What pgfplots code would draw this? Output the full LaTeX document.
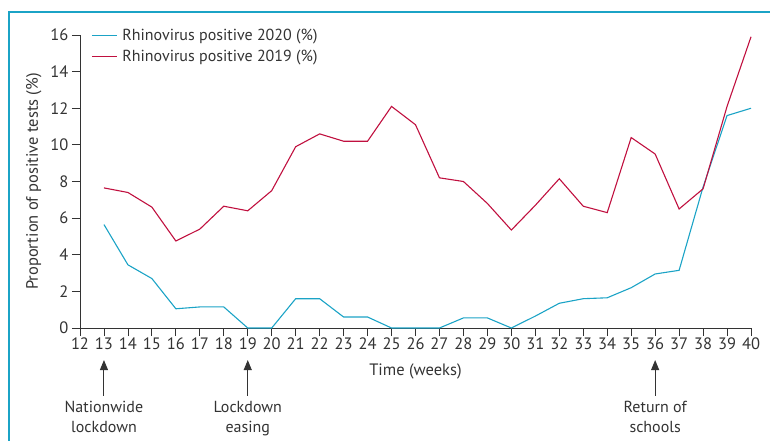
\documentclass[border=0pt]{standalone}
\usepackage{pgfplots}
\pgfplotsset{compat=1.18}
\usepackage{fontspec}
\setmainfont{PT Sans}
\usetikzlibrary{arrows.meta}
\definecolor{cblue}{HTML}{1BA3C6}
\definecolor{cred}{HTML}{C0103F}
\definecolor{txt}{HTML}{333333}
\pgfplotstableread{
week y2020 y2019
13 5.65 7.65
14 3.45 7.40
15 2.70 6.60
16 1.05 4.75
17 1.15 5.40
18 1.15 6.65
19 0.00 6.40
20 0.00 7.50
21 1.60 9.90
22 1.60 10.60
23 0.60 10.20
24 0.60 10.20
25 0.00 12.10
26 0.00 11.10
27 0.00 8.20
28 0.55 8.00
29 0.55 6.80
30 0.00 5.35
31 0.65 6.70
32 1.35 8.15
33 1.60 6.65
34 1.65 6.30
35 2.20 10.40
36 2.95 9.50
37 3.15 6.50
38 7.70 7.60
39 11.60 12.10
40 12.00 15.90
}\datatable
\begin{document}
\begin{tikzpicture}
\useasboundingbox (-80pt,-113pt) rectangle (690pt,328pt);
\draw[cblue, line width=1.2pt] (-71pt,-113pt) -- (-71pt,316pt) -- (690pt,316pt);
\begin{axis}[
  anchor=south west,
  width=671pt, height=293pt, scale only axis,
  xmin=12, xmax=40, ymin=0, ymax=16,
  axis x line*=bottom, axis y line*=left,
  xtick={12,...,40}, ytick={0,2,...,16},
  tick align=outside, major tick length=8pt,
  tick style={txt, line width=0.8pt},
  axis line style={txt, line width=0.9pt},
  ticklabel style={font=\fontsize{16.5}{17}\selectfont, text=txt},
  xticklabel style={inner sep=2pt},
  /pgf/number format/assume math mode=true,
  xlabel={Time (weeks)}, ylabel={Proportion of positive tests (\%)},
  label style={font=\fontsize{16.5}{18}\selectfont, text=txt},
  xlabel style={yshift=-8pt},
  ylabel style={yshift=2pt},
  legend style={at={(rel axis cs:0.012,1.035)}, anchor=north west, draw=none, fill=none,
    font=\fontsize{16}{18}\selectfont, text=txt, row sep=4.5pt},
  legend cell align=left,
  legend image code/.code={\draw[#1] plot coordinates {(0pt,0pt) (12pt,0pt) (25pt,0pt)}; \path (28pt,0pt);},
  clip=false,
]
\addplot[cblue, line width=1.1pt] table[x=week, y=y2020] {\datatable};
\addlegendentry{Rhinovirus positive 2020 (\%)}
\addplot[cred, line width=1.1pt] table[x=week, y=y2019] {\datatable};
\addlegendentry{Rhinovirus positive 2019 (\%)}
\draw[txt, line width=1pt, -{Triangle[length=10pt,width=8pt]}] (axis cs:13,-3.7) -- (axis cs:13,-1.75);
\draw[txt, line width=1pt, -{Triangle[length=10pt,width=8pt]}] (axis cs:19,-3.7) -- (axis cs:19,-1.75);
\draw[txt, line width=1pt, -{Triangle[length=10pt,width=8pt]}] (axis cs:36,-3.7) -- (axis cs:36,-1.75);
\node[align=center, anchor=north, font=\fontsize{16}{20}\selectfont, text=txt] at (axis cs:13,-3.8) {Nationwide\\lockdown};
\node[align=center, anchor=north, font=\fontsize{16}{20}\selectfont, text=txt] at (axis cs:19,-3.8) {Lockdown\\easing};
\node[align=center, anchor=north, font=\fontsize{16}{20}\selectfont, text=txt] at (axis cs:36,-3.8) {Return of\\schools};
\end{axis}
\end{tikzpicture}
\end{document}
